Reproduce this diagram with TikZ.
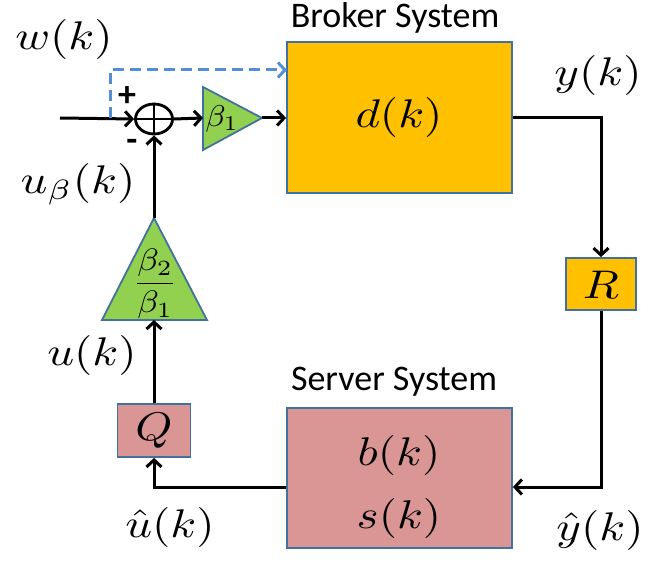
\documentclass[tikz,border=0pt]{standalone}
\usepackage{fontspec}
\usepackage{graphicx}
\setsansfont{Carlito}
\usetikzlibrary{arrows.meta,shapes.geometric}
\definecolor{orgfill}{HTML}{FFC000}
\definecolor{pinkfill}{HTML}{D99694}
\definecolor{greenfill}{HTML}{92D050}
\definecolor{bordblue}{HTML}{41719C}
\definecolor{dashblue}{HTML}{558ED5}
\newcommand\bigmath[1]{\scalebox{4.7}[4]{$#1$}}
\begin{document}
\begin{tikzpicture}[x=1pt,y=-1pt,
  blk/.style={draw=bordblue, line width=1.8pt, inner sep=0pt},
  tri/.style={draw=bordblue, fill=greenfill, line width=1.8pt, line join=miter},
  bigm/.style={inner sep=0pt},
  captxt/.style={font=\sffamily\fontsize{36}{42}\selectfont, inner sep=0pt},
  sgn/.style={font=\sffamily\bfseries\fontsize{36}{42}\selectfont, inner sep=0pt},
  ar/.style={line width=3pt, -{Straight Barb[length=7pt,width=15pt]}},
  dar/.style={line width=3pt, draw=dashblue, dash pattern=on 11pt off 6pt, -{Straight Barb[length=7pt,width=15pt]}}
]
\useasboundingbox (0,0) rectangle (653,564);

% blocks
\node[blk, fill=orgfill, minimum width=225pt, minimum height=151pt] (broker) at (399.5,117.5) {};
\node[bigm] (dk) at (399,118) {\bigmath{d(k)}};
\node[captxt] (brokerlbl) at (395,18) {Broker System};

\node[blk, fill=pinkfill, minimum width=225pt, minimum height=140pt] (server) at (399.5,478) {};
\node[bigm] (bk) at (399,455) {\bigmath{b(k)}};
\node[bigm] (sk) at (399,518) {\bigmath{s(k)}};
\node[captxt] (serverlbl) at (394,382) {Server System};

\node[blk, fill=orgfill, minimum width=70pt, minimum height=52pt] (R) at (601,284) {};
\node[bigm] (Rt) at (601,285) {\bigmath{R}};

\node[blk, fill=pinkfill, minimum width=73pt, minimum height=53pt] (Q) at (154,430.5) {};
\node[bigm] (Qt) at (154,431) {\bigmath{Q}};

% summing junction
\node[draw, ellipse, line width=2.8pt, minimum width=37pt, minimum height=30pt, inner sep=0pt] (sum) at (154,119) {};
\draw[line width=2.6pt] (sum.north) -- (sum.south) (sum.west) -- (sum.east);
\node[sgn] (plus) at (127,97) {+};
\node[sgn] (minus) at (132,145) {-};

% triangle beta1
\coordinate (t1top) at (203,87);
\coordinate (t1bot) at (203,150);
\coordinate (t1a) at (262,118);
\coordinate (t1w) at (203,118);
\draw[tri] (t1top) -- (t1a) -- (t1bot) -- cycle;
\node[inner sep=0pt] (b1) at (222,119) {\scalebox{3.3}[3]{$\beta_1$}};

% triangle beta2/beta1
\coordinate (t2l) at (102,320);
\coordinate (t2r) at (207,320);
\coordinate (t2a) at (154,218);
\coordinate (t2b) at (154,320);
\draw[tri] (t2l) -- (t2a) -- (t2r) -- cycle;
\node[inner sep=0pt] (b21) at (155,284) {\scalebox{3.5}[3.1]{$\displaystyle\frac{\beta_2}{\beta_1}$}};

% input and dashed feedforward
\coordinate (in) at (60,118);
\coordinate (dstart) at (110,118);
\coordinate (dend) at (287,70);
\draw[ar] (in) -- (sum.west);
\draw[dar] (dstart) |- (dend);

% main connectors
\draw[ar] (sum.east) -- (t1w);
\draw[ar] (t1a) -- (broker.west |- t1a);
\draw[ar] (broker.east |- t1a) -| (R.north);
\coordinate (ret) at (601,487);
\draw[ar] (R.south) -- (ret) -- (server.east |- ret);
\draw[ar] (server.west |- ret) -| (Q.south);
\draw[ar] (Q.north) -- (t2b);
\draw[ar] (t2a) -- (sum.south);

% signal labels
\node[bigm] (wk) at (64,40) {\bigmath{w(k)}};
\node[bigm] (ubk) at (78,184) {\bigmath{u_\beta(k)}};
\node[bigm] (uk) at (92,355) {\bigmath{u(k)}};
\node[bigm] (uhk) at (170,527) {\bigmath{\hat u(k)}};
\node[bigm] (yk) at (598,76) {\bigmath{y(k)}};
\node[bigm] (yhk) at (600,530) {\bigmath{\hat y(k)}};
\end{tikzpicture}
\end{document}
